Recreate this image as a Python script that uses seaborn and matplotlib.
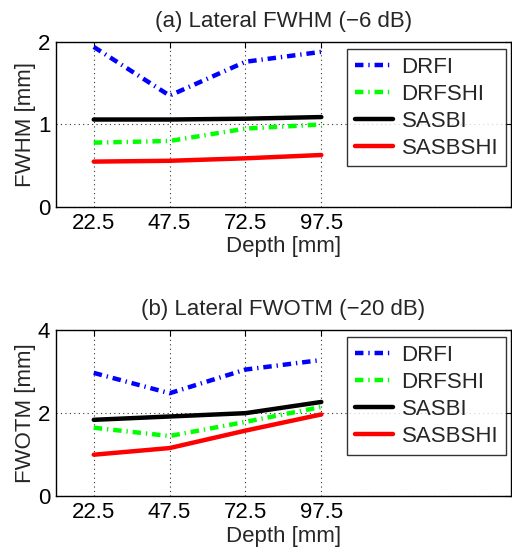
import numpy as np
import pandas as pd
import matplotlib
matplotlib.use('Agg')
import matplotlib.pyplot as plt
import seaborn as sns

# depth positions [mm]
depth = [22.5, 47.5, 72.5, 97.5]
methods = ['DRFI', 'DRFSHI', 'SASBI', 'SASBSHI']

# (a) lateral FWHM (-6 dB) [mm]
fwhm_drfi = [1.94, 1.35, 1.76, 1.88]
fwhm_drfshi = [0.78, 0.80, 0.95, 1.00]
fwhm_sasbi = [1.06, 1.06, 1.07, 1.09]
fwhm_sasbshi = [0.55, 0.56, 0.59, 0.63]

# (b) lateral FWOTM (-20 dB) [mm]
fwotm_drfi = [2.97, 2.48, 3.05, 3.28]
fwotm_drfshi = [1.65, 1.45, 1.79, 2.15]
fwotm_sasbi = [1.84, 1.92, 2.00, 2.27]
fwotm_sasbshi = [1.00, 1.16, 1.58, 1.97]

colors = {'DRFI': '#0000ff', 'DRFSHI': '#00ff00', 'SASBI': '#000000', 'SASBSHI': '#ff0000'}
dashdot = (1.9, 1.1, 0.3, 1.1)
dashes = {'DRFI': dashdot, 'DRFSHI': dashdot, 'SASBI': '', 'SASBSHI': ''}


def to_long(series):
    rows = []
    for name, vals in zip(methods, series):
        for d, v in zip(depth, vals):
            rows.append({'Depth': d, 'value': v, 'method': name})
    return pd.DataFrame(rows)


sns.set_theme(style='white')
plt.rcParams['font.family'] = ['Liberation Sans', 'DejaVu Sans']
fs = 16

fig = plt.figure(figsize=(5.12, 5.52), dpi=100)
ax1 = fig.add_axes([0.109, 0.625, 0.889, 0.299])
ax2 = fig.add_axes([0.109, 0.101, 0.889, 0.301])

panels = [
    (ax1, [fwhm_drfi, fwhm_drfshi, fwhm_sasbi, fwhm_sasbshi], '(a) Lateral FWHM (\u22126 dB)', 'FWHM [mm]', 2, [0, 1, 2]),
    (ax2, [fwotm_drfi, fwotm_drfshi, fwotm_sasbi, fwotm_sasbshi], '(b) Lateral FWOTM (\u221220 dB)', 'FWOTM [mm]', 4, [0, 2, 4]),
]

for ax, series, title, ylabel, ymax, yt in panels:
    df = to_long(series)
    sns.lineplot(data=df, x='Depth', y='value', hue='method', style='method',
                 palette=colors, dashes=dashes, linewidth=3.2, ax=ax)
    ax.set_xlim(10, 160)
    ax.set_ylim(0, ymax)
    ax.set_xticks(depth)
    ax.set_xticklabels(['22.5', '47.5', '72.5', '97.5'])
    ax.set_yticks(yt)
    ax.set_title(title, fontsize=fs, pad=11)
    ax.set_xlabel('Depth [mm]', fontsize=fs, labelpad=2)
    ax.set_ylabel(ylabel, fontsize=fs, labelpad=1)
    ax.grid(True, color='#333333', linestyle=(0, (1, 3)), linewidth=0.8)
    ax.tick_params(direction='in', length=4, width=0.8, top=True, right=True,
                   labelsize=fs, colors='black', pad=4)
    for sp in ax.spines.values():
        sp.set_color('black')
        sp.set_linewidth(1.0)
    leg = ax.legend(loc='upper right', bbox_to_anchor=(0.989, 0.958), fontsize=fs,
                    frameon=True, fancybox=False, handlelength=1.7, handletextpad=0.4,
                    labelspacing=0.27, borderpad=0.35, borderaxespad=0)
    leg.get_frame().set_edgecolor('black')
    leg.get_frame().set_linewidth(1.0)
    for line in leg.get_lines():
        line.set_linewidth(3.2)

fig.savefig('out.png', dpi=100)
